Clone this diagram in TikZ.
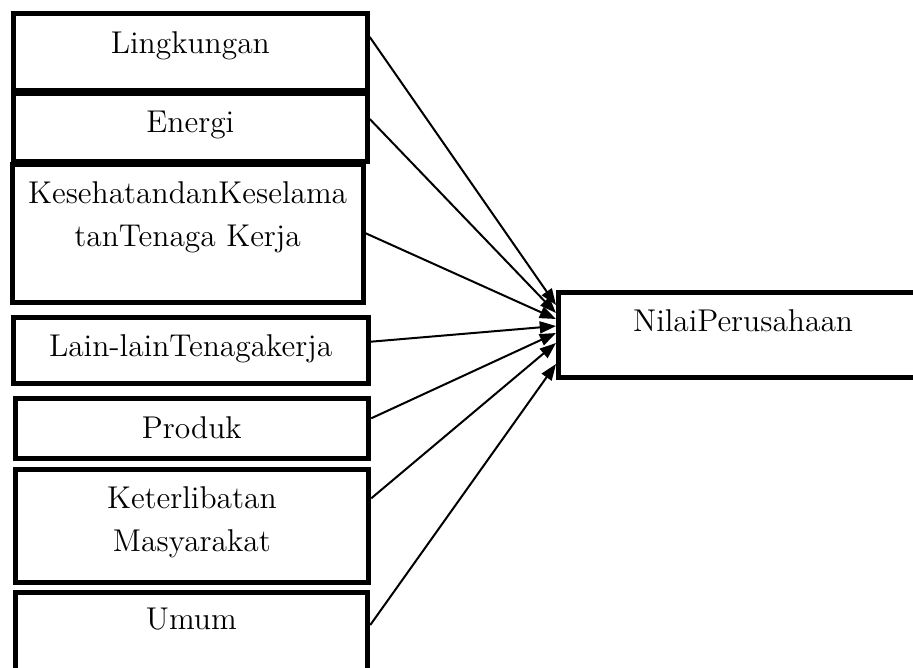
\documentclass[tikz,border=0pt]{standalone}
\usetikzlibrary{arrows.meta}

\newlength{\pxu}
\setlength{\pxu}{0.4pt}

\tikzset{
  factor/.style={draw, line width=2.1pt, anchor=north west, inner sep=0pt,
    align=center, font=\fontsize{12.6}{17.2}\selectfont},
  link/.style={-{Triangle[length=6.5pt,width=4.8pt]}, line width=0.8pt},
}

\begin{document}
\begin{tikzpicture}[x=0.4pt, y=-0.4pt]
  \useasboundingbox (0,0) rectangle (913,667);
  \clip (0,0) rectangle (913,667);
  % indicator boxes (left column)
  \node[factor, text width=353.5\pxu, text height=40\pxu, text depth=37.5\pxu] (lingkungan) at (11,10.5) {Lingkungan};
  \node[factor, text width=353.5\pxu, text height=38.5\pxu, text depth=29.5\pxu] (energi) at (11,91) {Energi};
  \node[factor, text width=351\pxu, text height=39\pxu, text depth=99.5\pxu] (kesehatan) at (9.5,161.5) {KesehatandanKeselama\\tanTenaga Kerja};
  \node[factor, text width=355\pxu, text height=39.5\pxu, text depth=26.5\pxu] (lainlain) at (10.5,314.5) {Lain-lainTenagakerja};
  \node[factor, text width=353.5\pxu, text height=39.7\pxu, text depth=20.3\pxu] (produk) at (12.5,396) {Produk};
  \node[factor, text width=353.5\pxu, text height=39.2\pxu, text depth=74.3\pxu] (masyarakat) at (12.5,466.5) {Keterlibatan\\Masyarakat};
  \node[factor, text width=352.5\pxu, text height=37.5\pxu, text depth=61\pxu] (umum) at (12.5,589.5) {Umum};
  % dependent variable
  \node[factor, text width=369\pxu, text height=39\pxu, text depth=46\pxu] (nilai) at (556,290) {NilaiPerusahaan};
  % arrows into the firm value box
  \foreach \src/\a/\b in {lingkungan/26.5/15, energi/28/23, kesehatan/71.8/29,
      lainlain/27.2/36, produk/22.3/43, masyarakat/31.8/53, umum/35.5/74}
    \draw[link] ([yshift=-\a\pxu]\src.north east) -- ([yshift=-\b\pxu]nilai.north west);
\end{tikzpicture}
\end{document}
